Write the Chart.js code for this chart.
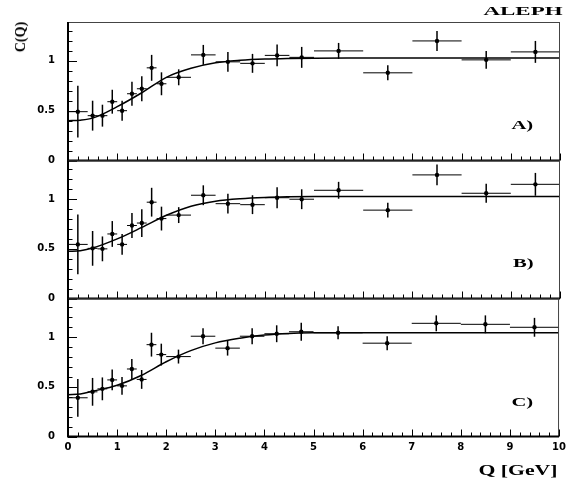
<!DOCTYPE html>
<html>
<head>
<meta charset="utf-8">
<script src="https://cdn.jsdelivr.net/npm/chart.js@4.4.0/dist/chart.umd.min.js"></script>
<style>
html, body { margin: 0; padding: 0; background: #fff; }
#wrap { position: relative; width: 571px; height: 481px; overflow: hidden; background: #fff; }
#wrap canvas { position: absolute; left: 0; top: 0; }
.lbl { position: absolute; font-family: "Liberation Serif", "Times New Roman", serif; font-weight: bold; color: #000; white-space: nowrap; line-height: 1; }
</style>
</head>
<body>
<div id="wrap">
  <canvas id="panelA" width="571" height="481"></canvas>
  <canvas id="panelB" width="571" height="481"></canvas>
  <canvas id="panelC" width="571" height="481"></canvas>
  <div class="lbl" id="aleph" style="right:8px;top:4px;font-size:13.5px;transform:scaleX(1.7);transform-origin:right top;">ALEPH</div>
  <div class="lbl" id="ylab" style="left:21px;top:37px;font-size:14px;transform:translate(-50%,-50%) rotate(-90deg);">C(Q)</div>
  <div class="lbl" id="xlab" style="right:13px;top:463px;font-size:15px;transform:scaleX(1.45);transform-origin:right top;">Q [GeV]</div>
  <div class="lbl" style="right:38px;top:119px;font-size:12.5px;transform:scaleX(1.65);transform-origin:right top;">A)</div>
  <div class="lbl" style="right:38px;top:257px;font-size:12.5px;transform:scaleX(1.65);transform-origin:right top;">B)</div>
  <div class="lbl" style="right:38px;top:396px;font-size:12.5px;transform:scaleX(1.65);transform-origin:right top;">C)</div>
</div>
<script>
// bin centres and bin edges in Q (GeV)
const qBins = [0.2, 0.5, 0.7, 0.9, 1.1, 1.3, 1.5, 1.7, 1.9, 2.25, 2.75, 3.25, 3.75, 4.25, 4.75, 5.5, 6.5, 7.5, 8.5, 9.5];
const qLow  = [0, 0.4, 0.6, 0.8, 1.0, 1.2, 1.4, 1.6, 1.8, 2.0, 2.5, 3.0, 3.5, 4.0, 4.5, 5, 6, 7, 8, 9];
const qHigh = [0.4, 0.6, 0.8, 1.0, 1.2, 1.4, 1.6, 1.8, 2.0, 2.5, 3.0, 3.5, 4.0, 4.5, 5.0, 6, 7, 8, 9, 10];

// panel A
const valsA = [0.49, 0.45, 0.45, 0.59, 0.50, 0.67, 0.72, 0.93, 0.77, 0.835, 1.06, 0.99, 0.975, 1.055, 1.035, 1.10, 0.88, 1.20, 1.01, 1.09];
const errsA = [0.26, 0.15, 0.11, 0.12, 0.10, 0.12, 0.125, 0.13, 0.115, 0.08, 0.10, 0.10, 0.095, 0.11, 0.105, 0.08, 0.075, 0.10, 0.09, 0.11];
// panel B
const valsB = [0.545, 0.505, 0.50, 0.65, 0.545, 0.735, 0.76, 0.97, 0.805, 0.84, 1.04, 0.955, 0.945, 1.015, 1.0, 1.09, 0.89, 1.245, 1.06, 1.15];
const errsB = [0.30, 0.175, 0.125, 0.13, 0.105, 0.125, 0.14, 0.145, 0.12, 0.08, 0.10, 0.10, 0.095, 0.105, 0.10, 0.085, 0.075, 0.105, 0.095, 0.115];
// panel C
const valsC = [0.39, 0.45, 0.48, 0.57, 0.51, 0.68, 0.575, 0.925, 0.825, 0.805, 1.01, 0.89, 1.01, 1.035, 1.055, 1.045, 0.94, 1.14, 1.13, 1.10];
const errsC = [0.19, 0.14, 0.115, 0.105, 0.09, 0.10, 0.095, 0.12, 0.11, 0.07, 0.08, 0.075, 0.08, 0.085, 0.09, 0.065, 0.07, 0.08, 0.09, 0.095];

// fitted curves
const fitQ = [0, 0.25, 0.5, 1, 1.5, 2, 2.5, 3, 3.5, 4, 4.5, 5, 6, 8, 10];
const fitA = [0.40, 0.405, 0.425, 0.54, 0.68, 0.835, 0.925, 0.98, 1.005, 1.018, 1.024, 1.027, 1.028, 1.028, 1.028];
const fitB = [0.475, 0.482, 0.508, 0.60, 0.716, 0.838, 0.93, 0.98, 1.005, 1.018, 1.024, 1.027, 1.028, 1.028, 1.028];
const fitC = [0.42, 0.428, 0.455, 0.516, 0.617, 0.753, 0.865, 0.943, 0.99, 1.022, 1.038, 1.044, 1.046, 1.046, 1.046];

const yTickLabels = { 0: '0', 0.5: '0.5', 1: '1' };
const xTickLabels = ['0', '1', '2', '3', '4', '5', '6', '7', '8', '9', '10'];

const tickFont = { family: '"DejaVu Sans", sans-serif', size: 10, weight: 'bold' };

const errorBars = {
    id: 'errorBars',
    beforeDatasetsDraw(chart, args, opts) {
        const { ctx, scales: { x, y } } = chart;
        ctx.save();
        ctx.strokeStyle = '#000';
        opts.vals.forEach((v, i) => {
            const px = x.getPixelForValue(qBins[i]);
            const py = y.getPixelForValue(v);
            ctx.lineWidth = 1;
            ctx.beginPath();
            ctx.moveTo(x.getPixelForValue(qLow[i]), py);
            ctx.lineTo(x.getPixelForValue(qHigh[i]), py);
            ctx.stroke();
            ctx.lineWidth = 1.5;
            ctx.beginPath();
            ctx.moveTo(px, y.getPixelForValue(v - opts.errs[i]));
            ctx.lineTo(px, y.getPixelForValue(v + opts.errs[i]));
            ctx.stroke();
        });
        ctx.restore();
    }
};

// ROOT-style frame with ticks pointing inward
const frame = {
    id: 'frame',
    afterDraw(chart) {
        const { ctx, chartArea: a, scales: { x, y } } = chart;
        ctx.save();
        ctx.strokeStyle = '#444';
        ctx.lineWidth = 1;
        ctx.beginPath();
        ctx.moveTo(a.left, a.top + 0.5); ctx.lineTo(a.right, a.top + 0.5);
        ctx.moveTo(a.right - 0.5, a.top); ctx.lineTo(a.right - 0.5, a.bottom);
        ctx.stroke();

        ctx.strokeStyle = '#000';
        ctx.lineWidth = 2;
        ctx.beginPath();
        ctx.moveTo(a.left, a.top); ctx.lineTo(a.left, a.bottom); ctx.lineTo(a.right, a.bottom);
        ctx.stroke();

        ctx.lineWidth = 1;
        ctx.beginPath();
        for (let k = 0; k <= 50; k++) {
            const px = Math.round(x.getPixelForValue(k / 5)) + 0.5;
            const len = k % 5 === 0 ? 7 : 4;
            ctx.moveTo(px, a.bottom); ctx.lineTo(px, a.bottom - len);
        }
        for (let k = 0; k <= 13; k++) {
            const py = Math.round(y.getPixelForValue(k / 10)) + 0.5;
            const len = k % 5 === 0 ? 9 : 4.5;
            ctx.moveTo(a.left, py); ctx.lineTo(a.left + len, py);
        }
        ctx.stroke();
        ctx.restore();
    }
};

function makePanel(id, vals, errs, fit, padTop, padBottom, showX) {
    return new Chart(document.getElementById(id), {
        type: 'scatter',
        data: {
            datasets: [{
                type: 'line',
                data: fitQ.map((q, i) => ({ x: q, y: fit[i] })),
                borderColor: '#000',
                borderWidth: 1.5,
                pointRadius: 0,
                cubicInterpolationMode: 'monotone',
                fill: false
            }, {
                data: qBins.map((q, i) => ({ x: q, y: vals[i] })),
                backgroundColor: '#000',
                borderColor: '#000',
                pointRadius: 2.2,
                pointBorderWidth: 0
            }]
        },
        options: {
            responsive: false,
            animation: false,
            layout: { padding: { top: padTop, bottom: padBottom, left: 0, right: 11 } },
            plugins: {
                legend: { display: false },
                tooltip: { enabled: false },
                errorBars: { vals: vals, errs: errs }
            },
            scales: {
                x: {
                    type: 'linear', min: 0, max: 10,
                    display: showX,
                    border: { display: false },
                    grid: { display: false, drawTicks: false },
                    ticks: {
                        stepSize: 1, padding: 5, color: '#000', font: tickFont, maxRotation: 0,
                        callback: v => xTickLabels[v] !== undefined ? xTickLabels[v] : ''
                    },
                    afterFit: s => { s.height = showX ? 20 : 0; }
                },
                y: {
                    min: 0, max: 1.39,
                    border: { display: false },
                    grid: { display: false, drawTicks: false },
                    ticks: {
                        stepSize: 0.5, padding: 13, color: '#000', font: tickFont,
                        callback: v => yTickLabels[v] !== undefined ? yTickLabels[v] : ''
                    },
                    afterFit: s => { s.width = 68; }
                }
            }
        },
        plugins: [errorBars, frame]
    });
}

makePanel('panelA', valsA, errsA, fitA, 22, 481 - 160.5, false);
makePanel('panelB', valsB, errsB, fitB, 160.5, 481 - 298.5, false);
makePanel('panelC', valsC, errsC, fitC, 298.5, 481 - 436.5 - 20, true);
</script>
</body>
</html>
